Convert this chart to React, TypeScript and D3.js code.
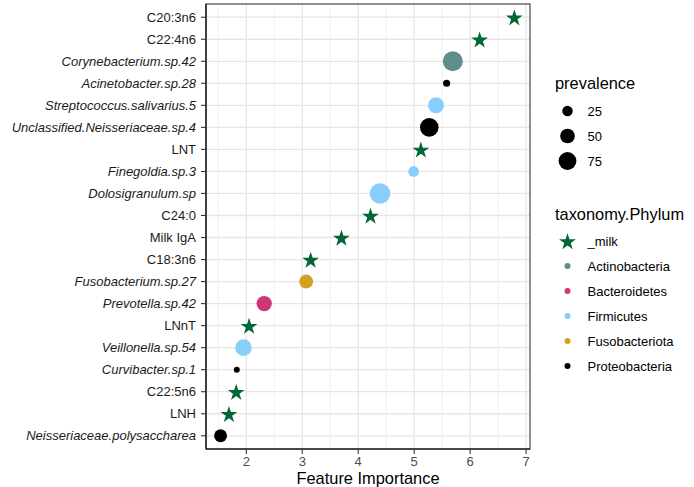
import React from 'react';
import * as d3 from 'd3';

// features listed top to bottom
const features = [
  'C20:3n6', 'C22:4n6', 'Corynebacterium.sp.42', 'Acinetobacter.sp.28',
  'Streptococcus.salivarius.5', 'Unclassified.Neisseriaceae.sp.4', 'LNT',
  'Finegoldia.sp.3', 'Dolosigranulum.sp', 'C24:0', 'Milk IgA', 'C18:3n6',
  'Fusobacterium.sp.27', 'Prevotella.sp.42', 'LNnT', 'Veillonella.sp.54',
  'Curvibacter.sp.1', 'C22:5n6', 'LNH', 'Neisseriaceae.polysaccharea',
];
const importance = [
  6.79, 6.17, 5.69, 5.58, 5.39, 5.27, 5.12, 4.99, 4.39, 4.22,
  3.70, 3.15, 3.07, 2.32, 2.05, 1.95, 1.83, 1.82, 1.69, 1.54,
];
const prevalence = [
  null, null, 95, 11, 60, 82, null, 26, 100, null,
  null, null, 45, 55, null, 65, 7.5, null, null, 39,
];
const phylum = [
  '_milk', '_milk', 'Actinobacteria', 'Proteobacteria', 'Firmicutes',
  'Proteobacteria', '_milk', 'Firmicutes', 'Firmicutes', '_milk',
  '_milk', '_milk', 'Fusobacteriota', 'Bacteroidetes', '_milk', 'Firmicutes',
  'Proteobacteria', '_milk', '_milk', 'Proteobacteria',
];

const phylumLevels = ['_milk', 'Actinobacteria', 'Bacteroidetes', 'Firmicutes', 'Fusobacteriota', 'Proteobacteria'];
const phylumColors = ['#006837', '#5F8D8A', '#CF357B', '#87CEFA', '#D4A020', '#000000'];
const sizeBreaks = [25, 50, 75];
const xTicks = [2, 3, 4, 5, 6, 7];
const xMinor = [1.5, 2.5, 3.5, 4.5, 5.5, 6.5];

const W = 694, H = 487;
const panel = { left: 206, right: 530, top: 4, bottom: 449 };
const font = '"Liberation Sans", Arial, Helvetica, sans-serif';

export default function App() {
  const x = d3.scaleLinear().domain([1.28, 7.07]).range([panel.left, panel.right]);
  const y = d3.scalePoint<string>().domain(features).range([panel.top, panel.bottom]).padding(0.6);
  const color = d3.scaleOrdinal<string, string>().domain(phylumLevels).range(phylumColors);
  const r = d3.scaleSqrt().domain([0, 100]).range([0.25, 10.25]);
  const star = d3.symbol().type(d3.symbolStar).size(88)();

  const rows = features.map((f, i) => ({
    f, v: importance[i], p: prevalence[i], ph: phylum[i],
  }));

  return (
    <svg width={W} height={H} style={{ position: 'absolute', left: 0, top: 0, fontFamily: font }}>
      <rect width={W} height={H} fill="#fff" />
      {/* grid */}
      {xMinor.map(t => (
        <line key={'mn' + t} x1={x(t)} x2={x(t)} y1={panel.top} y2={panel.bottom} stroke="#ebebeb" strokeWidth={0.7} />
      ))}
      {xTicks.map(t => (
        <line key={'mj' + t} x1={x(t)} x2={x(t)} y1={panel.top} y2={panel.bottom} stroke="#e6e6e6" strokeWidth={1.3} />
      ))}
      {features.map(f => (
        <line key={'hg' + f} x1={panel.left} x2={panel.right} y1={y(f)} y2={y(f)} stroke="#e6e6e6" strokeWidth={1.3} />
      ))}
      <rect x={panel.left} y={panel.top} width={panel.right - panel.left} height={panel.bottom - panel.top}
        fill="none" stroke="#333" strokeWidth={1.1} />
      <line x1={panel.left} x2={panel.left} y1={panel.top} y2={panel.bottom} stroke="#000" strokeWidth={1.1} />
      <line x1={panel.left} x2={panel.right} y1={panel.bottom} y2={panel.bottom} stroke="#000" strokeWidth={1.1} />

      {/* points */}
      {rows.map(d => d.ph === '_milk' ? (
        <path key={d.f} d={star!} transform={`translate(${x(d.v)},${y(d.f)! + 1})`} fill={color(d.ph)} />
      ) : (
        <circle key={d.f} cx={x(d.v)} cy={y(d.f)} r={r(d.p as number)} fill={color(d.ph)} />
      ))}

      {/* y axis */}
      {features.map((f, i) => (
        <g key={'yt' + f} transform={`translate(0,${y(f)})`}>
          <line x1={panel.left - 5} x2={panel.left} stroke="#333" strokeWidth={1.1} />
          <text x={panel.left - 10} dy="0.35em" textAnchor="end" fontSize={13} fill="#1a1a1a"
            fontStyle={phylum[i] === '_milk' ? 'normal' : 'italic'}>{f}</text>
        </g>
      ))}
      {/* x axis */}
      {xTicks.map(t => (
        <g key={'xt' + t} transform={`translate(${x(t)},${panel.bottom})`}>
          <line y1={0} y2={5} stroke="#333" strokeWidth={1.1} />
          <text y={16.5} textAnchor="middle" fontSize={13} fill="#4d4d4d">{t}</text>
        </g>
      ))}
      <text x={(panel.left + panel.right) / 2} y={484} textAnchor="middle" fontSize={16.4} fill="#000">Feature Importance</text>

      {/* legend: prevalence */}
      <text x={555} y={89} fontSize={16.4} fill="#000">prevalence</text>
      {sizeBreaks.map((b, i) => (
        <g key={'sb' + b} transform={`translate(567.5,${111 + i * 25})`}>
          <circle r={r(b)} fill="#000" />
          <text x={20} dy="0.35em" fontSize={13} fill="#000">{b}</text>
        </g>
      ))}

      {/* legend: phylum */}
      <text x={555} y={220} fontSize={16.4} fill="#000">taxonomy.Phylum</text>
      {phylumLevels.map((p, i) => (
        <g key={'pl' + p} transform={`translate(567.5,${241 + i * 25})`}>
          {p === '_milk'
            ? <path d={star!} transform="translate(0,1)" fill={color(p)} />
            : <circle r={3} fill={color(p)} />}
          <text x={20} dy="0.35em" fontSize={13} fill="#000">{p}</text>
        </g>
      ))}
    </svg>
  );
}
